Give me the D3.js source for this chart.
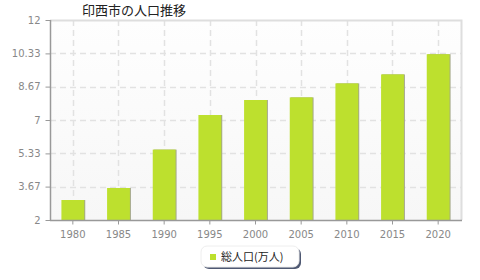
<!DOCTYPE html>
<html>
<head>
<meta charset="utf-8">
<script src="https://cdn.jsdelivr.net/npm/d3@7"></script>
<style>
  body { margin: 0; background: #fff; }
  text { font-family: "DejaVu Sans", sans-serif; }
</style>
</head>
<body>
<script>
// chart data
var years = ["1980", "1985", "1990", "1995", "2000", "2005", "2010", "2015", "2020"];
var population = [3.0, 3.6, 5.52, 7.25, 8.0, 8.13, 8.83, 9.28, 10.29];
var yTicks = [2, 3.67, 5.33, 7, 8.67, 10.33, 12];
var titleText = "印西市の人口推移";
var seriesName = "総人口(万人)";

var w = 480, h = 280;
// plot edges (note: "top" is taken by window.top)
var pLeft = 50, pRight = 461, pTop = 20, pBottom = 220;

var svg = d3.select("body").append("svg")
    .attr("width", w)
    .attr("height", h);

var x = d3.scaleBand().domain(years).range([pLeft, pRight]).padding(0);
var y = d3.scaleLinear().domain([2, 12]).range([pBottom, pTop]);

// plot background
var defs = svg.append("defs");
var grad = defs.append("linearGradient")
    .attr("id", "bg")
    .attr("x1", 0).attr("y1", 0).attr("x2", 0).attr("y2", 1);
grad.append("stop").attr("offset", "0%").attr("stop-color", "#fefefe");
grad.append("stop").attr("offset", "100%").attr("stop-color", "#f7f7f7");

svg.append("rect")
    .attr("x", pLeft).attr("y", pTop)
    .attr("width", pRight - pLeft).attr("height", pBottom - pTop)
    .style("fill", "url(#bg)");

// grid lines
svg.append("g").selectAll("line")
    .data(yTicks.slice(1, -1))
    .enter().append("line")
    .attr("x1", pLeft).attr("x2", pRight)
    .attr("y1", function(d) { return Math.round(y(d)) + 0.5; })
    .attr("y2", function(d) { return Math.round(y(d)) + 0.5; })
    .style("stroke", "#e2e2e2")
    .style("stroke-width", 1.5)
    .style("stroke-dasharray", "6,4");

svg.append("g").selectAll("line")
    .data(years)
    .enter().append("line")
    .attr("x1", function(d) { return Math.round(x(d) + x.bandwidth() / 2) + 0.5; })
    .attr("x2", function(d) { return Math.round(x(d) + x.bandwidth() / 2) + 0.5; })
    .attr("y1", pTop).attr("y2", pBottom)
    .style("stroke", "#e2e2e2")
    .style("stroke-width", 1.5)
    .style("stroke-dasharray", "6,4");

// top / right frame
svg.append("path")
    .attr("d", "M" + pLeft + "," + (pTop + 0.5) + "H" + (pRight + 0.5) + "V" + pBottom)
    .style("fill", "none")
    .style("stroke", "#dedede")
    .style("stroke-width", 2);

// bars
var barW = x.bandwidth() * 0.5;
var bars = svg.append("g").selectAll("g")
    .data(years)
    .enter().append("g");

bars.append("rect")
    .attr("x", function(d) { return x(d) + (x.bandwidth() - barW) / 2 + 1; })
    .attr("y", function(d, i) { return y(population[i]); })
    .attr("width", barW)
    .attr("height", function(d, i) { return pBottom - y(population[i]); })
    .style("fill", "#a4a88a");

bars.append("rect")
    .attr("x", function(d) { return x(d) + (x.bandwidth() - barW) / 2; })
    .attr("y", function(d, i) { return y(population[i]); })
    .attr("width", barW)
    .attr("height", function(d, i) { return pBottom - y(population[i]); })
    .style("fill", "#bde02e");

// axes
var yAxis = d3.axisLeft(y)
    .tickValues(yTicks)
    .tickFormat(function(d) { return String(d); })
    .tickSize(5)
    .tickPadding(5);

var gy = svg.append("g")
    .attr("transform", "translate(" + (pLeft + 0.5) + ",0)")
    .call(yAxis);

var xAxis = d3.axisBottom(x)
    .tickSize(4)
    .tickPadding(6);

var gx = svg.append("g")
    .attr("transform", "translate(0," + (pBottom + 0.5) + ")")
    .call(xAxis);

[gy, gx].forEach(function(g) {
    g.select(".domain").style("stroke", "#999").style("stroke-width", 1.5);
    g.selectAll(".tick line").style("stroke", "#999");
    g.selectAll(".tick text")
        .style("fill", "#888")
        .style("font-size", "10px")
        .style("font-family", "'DejaVu Sans', sans-serif");
});
gy.select(".domain").attr("d", "M0," + pTop + "V" + pBottom);
gx.select(".domain").attr("d", "M" + pLeft + ",0H" + (pRight + 1));

// title
svg.append("text")
    .text(titleText)
    .attr("x", 82)
    .attr("y", 15)
    .style("font-family", "'Noto Sans CJK JP', sans-serif")
    .style("font-size", "13px")
    .style("fill", "#222");

// legend
var lg = svg.append("g");
lg.append("rect")
    .attr("x", 203).attr("y", 248)
    .attr("width", 98).attr("height", 21)
    .attr("rx", 6)
    .style("fill", "#4e5872");
lg.append("rect")
    .attr("x", 201).attr("y", 246)
    .attr("width", 98).attr("height", 21)
    .attr("rx", 6)
    .style("fill", "#fff")
    .style("stroke", "#eee");
lg.append("rect")
    .attr("x", 210).attr("y", 254)
    .attr("width", 6).attr("height", 6)
    .style("fill", "#bde02e");
lg.append("text")
    .text(seriesName)
    .attr("x", 221)
    .attr("y", 261)
    .style("font-family", "'Noto Sans CJK JP', sans-serif")
    .style("font-size", "11px")
    .style("fill", "#222");
</script>
</body>
</html>
